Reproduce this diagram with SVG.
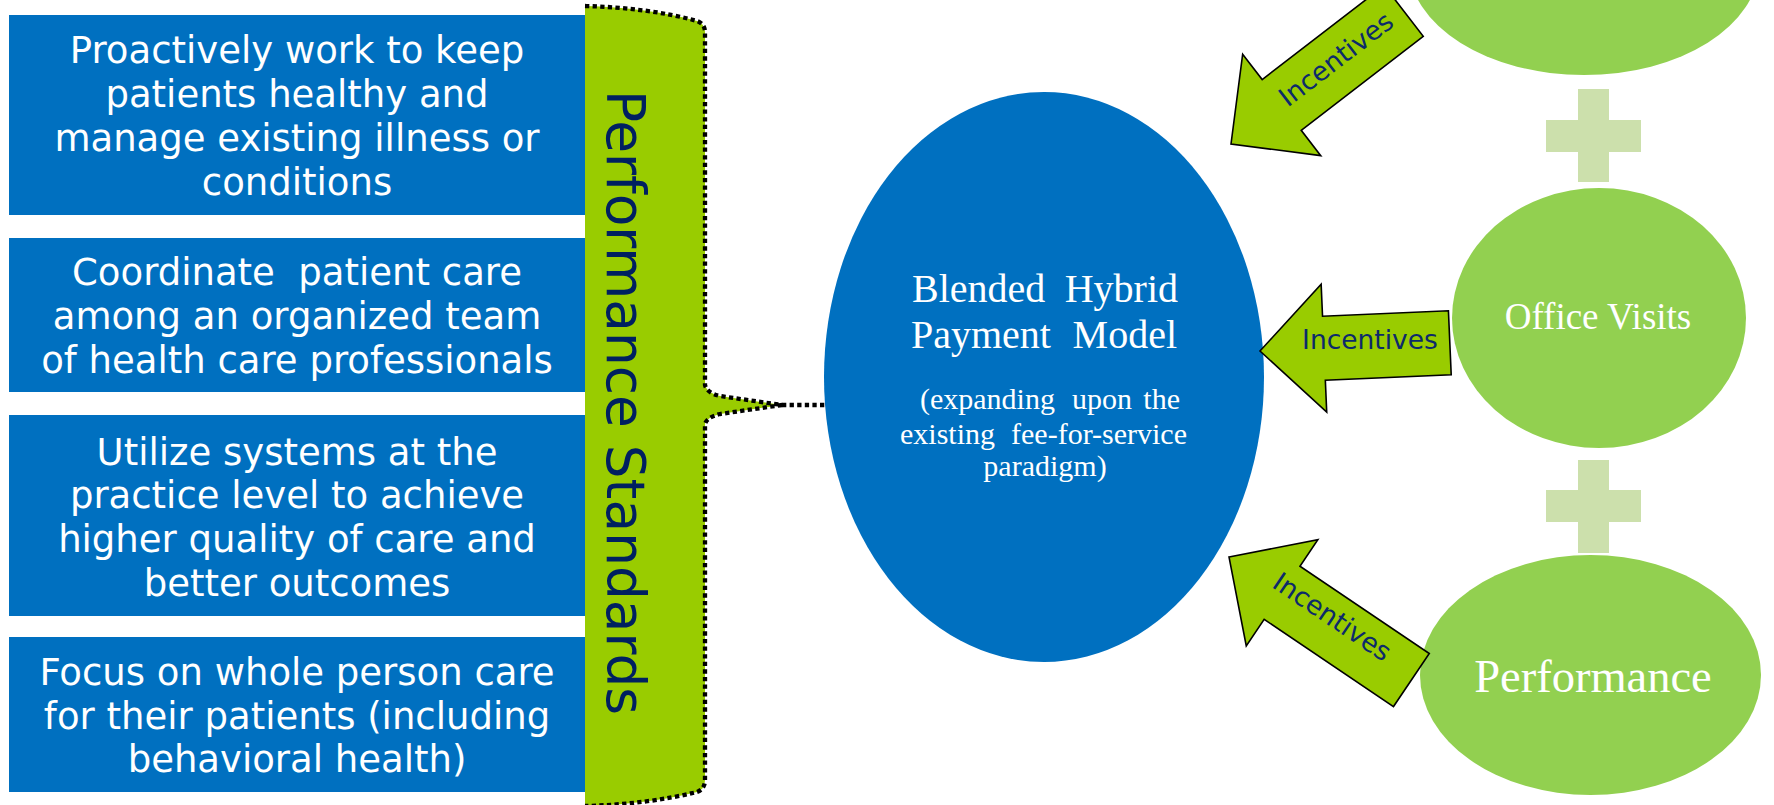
<svg xmlns="http://www.w3.org/2000/svg" width="1774" height="805" viewBox="0 0 1774 805">
  <style>
    .box { fill: #0070C0; }
    .boxtxt { font-family: "DejaVu Sans", Verdana, sans-serif; font-size: 37px; fill: #FFFFFF; text-anchor: middle; }
    .brace { fill: #99CC00; }
    .dots { fill: none; stroke: #000000; stroke-width: 4.3; stroke-dasharray: 4.3 3.3; }
    .vlabel { font-family: "DejaVu Sans", Verdana, sans-serif; font-size: 54px; fill: #002060; text-anchor: middle; }
    .hub { fill: #0070C0; }
    .serif { font-family: "Liberation Serif", "Times New Roman", serif; fill: #FFFFFF; }
    .leaf { fill: #92D050; }
    .plus { fill: #CCE0AC; }
    .arrow { fill: #99CC00; stroke: #000000; stroke-width: 1.6; stroke-linejoin: miter; }
    .inc { font-family: "DejaVu Sans", Verdana, sans-serif; font-size: 26.5px; fill: #0C2A6B; text-anchor: middle; }
  </style>

  <rect width="1774" height="805" fill="#FFFFFF"/>

  <!-- left column: care goals -->
  <g id="goal-proactive">
    <rect class="box" x="9" y="15" width="576" height="200"/>
    <text class="boxtxt" x="297" y="63">Proactively work to keep</text>
    <text class="boxtxt" x="297" y="107">patients healthy and</text>
    <text class="boxtxt" x="297" y="151">manage existing illness or</text>
    <text class="boxtxt" x="297" y="195">conditions</text>
  </g>
  <g id="goal-coordinate">
    <rect class="box" x="9" y="238" width="576" height="154"/>
    <text class="boxtxt" x="297" y="285" xml:space="preserve">Coordinate  patient care</text>
    <text class="boxtxt" x="297" y="329">among an organized team</text>
    <text class="boxtxt" x="297" y="373">of health care professionals</text>
  </g>
  <g id="goal-systems">
    <rect class="box" x="9" y="415" width="576" height="201"/>
    <text class="boxtxt" x="297" y="465">Utilize systems at the</text>
    <text class="boxtxt" x="297" y="508">practice level to achieve</text>
    <text class="boxtxt" x="297" y="552">higher quality of care and</text>
    <text class="boxtxt" x="297" y="596">better outcomes</text>
  </g>
  <g id="goal-whole-person">
    <rect class="box" x="9" y="637" width="576" height="155"/>
    <text class="boxtxt" x="297" y="685">Focus on whole person care</text>
    <text class="boxtxt" x="297" y="729">for their patients (including</text>
    <text class="boxtxt" x="297" y="772">behavioral health)</text>
  </g>

  <!-- brace grouping the goals -->
  <g id="performance-standards">
    <path class="brace" d="M585,6 C625,7 665,12 697,21 Q705,24 705,32 L705,385 Q707,393 720,396 L782,405 L720,414 Q707,417 705,424 L705,780 Q705,789 697,792 C665,800 625,805 585,806 Z"/>
    <path class="dots" d="M585,6 C625,7 665,12 697,21 Q705,24 705,32 L705,385 Q707,393 720,396 L782,405 M782,405 L720,414 Q707,417 705,424 L705,780 Q705,789 697,792 C665,800 625,805 585,806"/>
    <text class="vlabel" transform="translate(607,402.5) rotate(90)" x="0" y="0" textLength="625" lengthAdjust="spacingAndGlyphs">Performance Standards</text>
  </g>

  <!-- central payment model -->
  <g id="payment-model">
    <ellipse class="hub" cx="1044" cy="377" rx="220" ry="285"/>
    <text class="serif" font-size="40" x="912" y="302">Blended</text>
    <text class="serif" font-size="40" x="1178" y="302" text-anchor="end">Hybrid</text>
    <text class="serif" font-size="40" x="911" y="348">Payment</text>
    <text class="serif" font-size="40" x="1177" y="348" text-anchor="end">Model</text>
    <text class="serif" font-size="30" x="920" y="409">(expanding</text>
    <text class="serif" font-size="30" x="1072" y="409">upon</text>
    <text class="serif" font-size="30" x="1180" y="409" text-anchor="end">the</text>
    <text class="serif" font-size="30" x="900" y="444">existing</text>
    <text class="serif" font-size="30" x="1187" y="444" text-anchor="end">fee-for-service</text>
    <text class="serif" font-size="30" x="1045" y="476" text-anchor="middle">paradigm)</text>
  </g>

  <!-- payment components on the right -->
  <g id="component-top">
    <ellipse class="leaf" cx="1584" cy="-35" rx="175" ry="110"/>
  </g>
  <g id="plus-1">
    <rect class="plus" x="1578" y="89" width="31" height="93"/>
    <rect class="plus" x="1546" y="120" width="95" height="32"/>
  </g>
  <g id="office-visits">
    <ellipse class="leaf" cx="1599" cy="318" rx="147" ry="130"/>
    <text class="serif" font-size="37" x="1598" y="329" text-anchor="middle">Office Visits</text>
  </g>
  <g id="plus-2">
    <rect class="plus" x="1578" y="460" width="31" height="93"/>
    <rect class="plus" x="1546" y="490" width="95" height="32"/>
  </g>
  <g id="performance">
    <ellipse class="leaf" cx="1590.5" cy="675" rx="170.5" ry="120"/>
    <text class="serif" font-size="46.5" x="1593" y="692" text-anchor="middle">Performance</text>
  </g>

  <!-- connectors -->
  <g id="connectors">
    <path class="dots" d="M782,405 L826,405"/>
    <g transform="translate(1231,144) rotate(-37.6)">
      <path class="arrow" d="M0,0 L64,-64 L64,-32 L218,-32 L218,32 L64,32 L64,64 Z"/>
      <text class="inc" x="135" y="6">Incentives</text>
    </g>
    <g transform="translate(1260,351) rotate(-2.5)">
      <path class="arrow" d="M0,0 L64,-64 L64,-32 L190,-32 L190,32 L64,32 L64,64 Z"/>
    </g>
    <text class="inc" x="1370" y="349">Incentives</text>
    <g transform="translate(1229,557) rotate(34)">
      <path class="arrow" d="M0,0 L64,-64 L64,-32 L220,-32 L220,32 L64,32 L64,64 Z"/>
      <text class="inc" x="119" y="1">Incentives</text>
    </g>
  </g>
</svg>
